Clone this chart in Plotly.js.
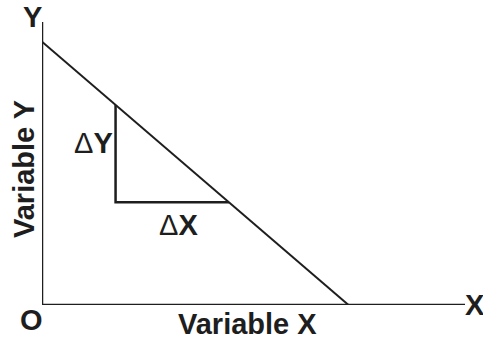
<!DOCTYPE html>
<html>
<head>
<meta charset="utf-8">
<script src="https://cdn.plot.ly/plotly-3.0.1.min.js"></script>
<style>html,body{margin:0;padding:0;background:#fff;}#chart{width:483px;height:339px;}</style>
</head>
<body>
<div id="chart"></div>
<script>
// Data (arbitrary units; origin O at (0,0))
const lineX = [0, 10];          // straight line: Y-intercept to X-intercept
const lineY = [10, 0];
const triX = [2.4, 2.4, 6.1];   // slope triangle: top point, corner, point on line
const triY = [7.6, 3.9, 3.9];
const axisXEnd = 13.8;
const axisYEnd = 10.75;
const labels = {y: "Y", x: "X", o: "O", vy: "Variable Y", vx: "Variable X", dy: "Y", dx: "X"};

const W = 483, H = 339;
const L = 42, R = 465, T = 22, B = 305;
const px = v => (v - L) / (R - L);
const py = v => (B - v) / (B - T);

const ink = "#1e1e1e";
const fnt = {family: "Liberation Sans, Arial, sans-serif", size: 29, color: ink};

const traces = [
  {x: [0, 0], y: [0, axisYEnd], mode: "lines", line: {color: ink, width: 2.5}, cliponaxis: false, hoverinfo: "skip"},
  {x: [0, axisXEnd], y: [0, 0], mode: "lines", line: {color: ink, width: 2.5}, cliponaxis: false, hoverinfo: "skip"},
  {x: lineX, y: lineY, mode: "lines", line: {color: ink, width: 2}, cliponaxis: false, hoverinfo: "skip"},
  {x: triX, y: triY, mode: "lines", line: {color: ink, width: 2.5}, cliponaxis: false, hoverinfo: "skip"}
];

function ann(text, x, y, extra) {
  return Object.assign({text: text, x: px(x), y: py(y), xref: "paper", yref: "paper",
    xanchor: "center", yanchor: "middle", showarrow: false, font: fnt}, extra || {});
}
const b = t => "<b>" + t + "</b>";

const layout = {
  width: W, height: H,
  margin: {l: L, r: W - R, t: T, b: H - B, pad: 0},
  paper_bgcolor: "#fff", plot_bgcolor: "#fff",
  showlegend: false,
  xaxis: {range: [0, axisXEnd], visible: false, fixedrange: true},
  yaxis: {range: [0, axisYEnd], visible: false, fixedrange: true},
  annotations: [
    ann(b(labels.y), 32, 17),
    ann(b(labels.o), 31, 320),
    ann(b(labels.x), 475, 305),
    ann(b(labels.vy), 24, 169, {textangle: -90}),
    ann(b(labels.vx), 247, 324),
    ann("Δ" + b(labels.dy), 93, 143),
    ann("Δ" + b(labels.dx), 178, 225)
  ]
};

Plotly.newPlot("chart", traces, layout, {staticPlot: true, displayModeBar: false});
</script>
</body>
</html>
